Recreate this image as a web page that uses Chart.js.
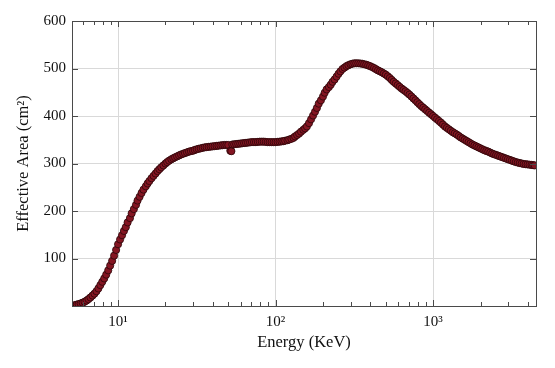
<!DOCTYPE html>
<html>
<head>
<meta charset="utf-8">
<script src="https://cdn.jsdelivr.net/npm/chart.js@4.4.1/dist/chart.umd.min.js"></script>
<style>
  html, body { margin: 0; padding: 0; background: #fff; }
  #wrap { width: 555px; height: 368px; }
</style>
</head>
<body>
<div id="wrap"><canvas id="chart"></canvas></div>
<script>
// Energy (keV) and effective area (cm^2)
const energy = [
  5.31, 5.62, 5.96, 6.31, 6.68, 7.08, 7.50, 7.94, 8.41, 8.91, 9.44,
  10.0, 10.6, 11.2, 11.9, 12.6, 13.3, 14.1, 15.0, 15.8, 16.8, 17.8, 18.8,
  20.0, 21.1, 22.4, 23.7, 25.1, 26.6, 28.2, 29.9, 31.6, 33.5, 35.5, 37.6,
  39.8, 42.2, 44.7, 47.3, 50.1, 51.6, 52.4, 53.1, 56.2, 59.6, 63.1, 66.8,
  70.8, 75.0, 79.4, 84.1, 89.1, 94.4,
  100, 106, 112, 119, 126, 133, 141, 150, 158, 168, 178, 188,
  200, 211, 224, 237, 251, 266, 282, 299, 316, 335, 355, 376,
  398, 422, 447, 473, 501, 531, 562, 596, 631, 668, 708, 750,
  794, 841, 891, 944,
  1000, 1059, 1122, 1189, 1259, 1334, 1413, 1496, 1585, 1679, 1778, 1884,
  1995, 2113, 2239, 2371, 2512, 2661, 2818, 2985, 3162, 3350, 3548, 3758,
  3981, 4217, 4416
];
const area = [
  2, 4, 7, 11.5, 18, 26, 37, 51, 66, 85, 106,
  130, 149, 166, 185, 204, 222, 238, 252, 263, 274, 284, 292,
  300, 306, 311, 315, 319, 322, 325, 327, 330, 332, 334, 335,
  336, 337, 338, 339, 339, 327, 326, 340, 341, 342, 343, 344,
  345, 345, 346, 346, 345, 345,
  345, 346, 347, 349, 352, 357, 363, 371, 378, 393, 409, 426,
  441, 456, 466, 477, 489, 499, 505, 509, 511, 511, 510, 508,
  505, 501, 496, 492, 487, 480, 472, 465, 458, 452, 445, 437,
  429, 421, 414, 407,
  400, 393, 386, 378, 372, 366, 361, 355, 350, 345, 340, 336,
  332, 328, 325, 321, 318, 315, 312, 309, 306, 303, 301, 299,
  298, 297, 296
];

// in-between readings (the measured points sit closer together than above)
const energyFine = [
  5.47, 5.79, 6.13, 6.49, 6.88, 7.29, 7.72, 8.17, 8.66, 9.17, 9.72,
  10.3, 10.9, 11.5, 12.2, 13.0, 13.7, 14.5, 15.4, 16.3, 17.3, 18.3, 19.4,
  20.5, 21.8, 23.0, 24.4, 25.9, 27.4, 29.0, 30.7, 32.5, 34.5, 36.5, 38.7,
  41.0, 43.4, 46.0, 48.7, 54.6, 57.9, 61.3, 64.9, 68.8, 72.9, 77.2, 81.8,
  86.6, 91.7, 97.2, 103, 109, 115, 122,
  130, 137, 145, 154, 163, 173, 183, 194, 205, 218, 230, 244, 258, 274, 290, 307,
  325, 345, 365, 387, 410, 434, 460, 487, 516, 546, 579, 613, 649, 688, 729, 772,
  817, 866, 917, 972, 1029, 1090, 1155, 1223, 1296, 1372, 1454, 1540, 1631, 1728,
  1830, 1939, 2054, 2175, 2304, 2441, 2585, 2738, 2901, 3073, 3255, 3448, 3652,
  3868, 4097, 4315
];
const areaFine = [
  3, 5.5, 9, 14.5, 22, 31, 44, 58, 75, 95, 118,
  140, 158, 176, 195, 213, 230, 245, 258, 269, 279, 288, 296,
  303, 309, 313, 317, 320.5, 323.5, 326, 328.5, 331, 333, 334.5, 335.5,
  336.5, 337.5, 338.5, 339, 340.5, 341.5, 342.5, 343.5, 344.5, 345, 345.5, 346,
  345.5, 345, 345, 345.5, 346.5, 348, 350.5,
  354, 360, 367, 374, 385, 401, 417, 433, 449, 461, 472, 483, 494, 502, 507, 510,
  511, 510.5, 509, 506.5, 503, 498.5, 494, 489.5, 483.5, 476, 468.5, 461.5, 455, 448.5, 441, 433,
  425, 417.5, 410.5, 403.5, 396.5, 389.5, 382, 375, 369, 363.5, 358, 352.5, 347.5, 342.5,
  338, 334, 330, 326.5, 323, 319.5, 316.5, 313.5, 310.5, 307.5, 304.5, 302, 300,
  298.5, 297.5, 296.5
];

// Axis ticks
const xMajorTicks = [10, 100, 1000];
const xTickLabels = ['10\u00B9', '10\u00B2', '10\u00B3'];
const xMinorTicks = [6, 7, 8, 9, 20, 30, 40, 50, 60, 70, 80, 90,
  200, 300, 400, 500, 600, 700, 800, 900, 2000, 3000, 4000];
const yTicks = [100, 200, 300, 400, 500, 600];

const serif = '"Liberation Serif", "DejaVu Serif", serif';
const gridColor = '#d9d9d9';
const axisColor = '#4a4a4a';

// frame around the plot plus inward tick marks
const framePlugin = {
  id: 'frame',
  afterDraw(chart) {
    const ctx = chart.ctx;
    const a = chart.chartArea;
    const xs = chart.scales.x;
    const ys = chart.scales.y;
    ctx.save();
    ctx.strokeStyle = axisColor;
    ctx.lineWidth = 1;
    ctx.beginPath();
    xMinorTicks.concat(xMajorTicks).forEach(function(v) {
      const px = Math.round(xs.getPixelForValue(v)) + 0.5;
      const len = xMajorTicks.includes(v) ? 6 : 4;
      ctx.moveTo(px, a.bottom);
      ctx.lineTo(px, a.bottom - len);
      ctx.moveTo(px, a.top);
      ctx.lineTo(px, a.top + len);
    });
    yTicks.forEach(function(v) {
      const py = Math.round(ys.getPixelForValue(v)) + 0.5;
      ctx.moveTo(a.left, py);
      ctx.lineTo(a.left + 6, py);
      ctx.moveTo(a.right, py);
      ctx.lineTo(a.right - 6, py);
    });
    ctx.stroke();
    ctx.strokeRect(Math.round(a.left) + 0.5, Math.round(a.top) + 0.5,
      Math.round(a.right - a.left), Math.round(a.bottom - a.top));
    ctx.restore();
  }
};

const points = energy.map(function(e, i) { return { x: e, y: area[i] }; })
  .concat(energyFine.map(function(e, i) { return { x: e, y: areaFine[i] }; }))
  .sort(function(a, b) { return a.x - b.x; });

new Chart(document.getElementById('chart'), {
  type: 'scatter',
  data: {
    datasets: [{
      data: points,
      pointRadius: 3.6,
      pointBackgroundColor: '#841522',
      pointBorderColor: '#2a0508',
      pointBorderWidth: 0.8,
      showLine: false
    }]
  },
  options: {
    responsive: true,
    maintainAspectRatio: false,
    animation: false,
    events: [],
    layout: { padding: { top: 21, right: 19, bottom: 0, left: 0 } },
    plugins: {
      legend: { display: false },
      tooltip: { enabled: false }
    },
    scales: {
      x: {
        type: 'logarithmic',
        min: 5.1,
        max: 4500,
        afterBuildTicks: function(scale) {
          scale.ticks = xMinorTicks.concat(xMajorTicks)
            .sort(function(a, b) { return a - b; })
            .map(function(v) { return { value: v }; });
        },
        afterFit: function(scale) { scale.height = 62; },
        border: { display: false },
        grid: {
          drawTicks: false,
          color: function(c) {
            return c.tick && xMajorTicks.includes(c.tick.value) ? gridColor : 'rgba(0,0,0,0)';
          }
        },
        ticks: {
          autoSkip: false,
          maxRotation: 0,
          padding: 7,
          color: '#111',
          font: { family: serif, size: 15 },
          callback: function(value) {
            const i = xMajorTicks.indexOf(value);
            return i >= 0 ? xTickLabels[i] : '';
          }
        },
        title: {
          display: true,
          text: 'Energy (KeV)',
          color: '#111',
          font: { family: serif, size: 16.5 },
          padding: { top: 0, bottom: 15 }
        }
      },
      y: {
        min: 0,
        max: 600,
        afterFit: function(scale) { scale.width = 72; },
        border: { display: false },
        grid: { drawTicks: false, color: gridColor },
        ticks: {
          stepSize: 100,
          padding: 6,
          color: '#111',
          font: { family: serif, size: 15 },
          callback: function(value) { return value === 0 ? '' : value; }
        },
        title: {
          display: true,
          text: 'Effective Area (cm\u00B2)',
          color: '#111',
          font: { family: serif, size: 16.5 },
          padding: { top: 14, bottom: 0 }
        }
      }
    }
  },
  plugins: [framePlugin]
});
</script>
</body>
</html>
